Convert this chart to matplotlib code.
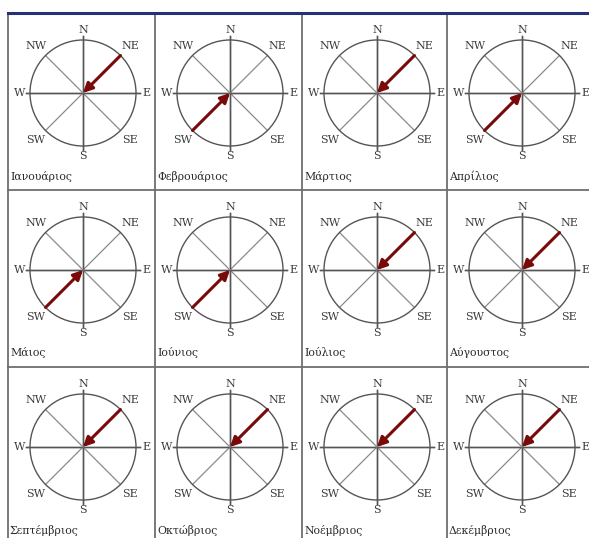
import numpy as np
import matplotlib
matplotlib.use("Agg")
import matplotlib.pyplot as plt
from matplotlib.patches import Circle

# months and prevailing wind direction
months = ["Ιανουάριος", "Φεβρουάριος", "Μάρτιος", "Απρίλιος",
          "Μάιος", "Ιούνιος", "Ιούλιος", "Αύγουστος",
          "Σεπτέμβριος", "Οκτώβριος", "Νοέμβριος", "Δεκέμβριος"]
wind_dir = ["NE", "SW", "NE", "SW",
            "SW", "SW", "NE", "NE",
            "NE", "NE", "NE", "NE"]

compass = ["N", "NE", "E", "SE", "S", "SW", "W", "NW"]
compass_deg = [0, 45, 90, 135, 180, 225, 270, 315]

W, H = 589, 538
fig = plt.figure(figsize=(W / 100, H / 100), dpi=100)
ax = fig.add_axes([0, 0, 1, 1])
ax.set_xlim(0, W)
ax.set_ylim(H, 0)
ax.axis("off")

# grid layout (pixels)
col_edges = [8, 155, 302, 447, 594]
row_edges = [13, 190, 367, 544]
R = 53
serif = ["DejaVu Serif"]

for i, (month, d) in enumerate(zip(months, wind_dir)):
    r, c = divmod(i, 4)
    x0, y0 = col_edges[c], row_edges[r]
    cx, cy = x0 + 75, y0 + 80

    # spokes
    for name, deg in zip(compass, compass_deg):
        a = np.radians(deg)
        if deg % 90 == 0:
            ext = R + 4
            ax.plot([cx - ext * np.sin(a), cx + ext * np.sin(a)],
                    [cy + ext * np.cos(a), cy - ext * np.cos(a)],
                    color="#555555", lw=1.0, zorder=2)
        else:
            ax.plot([cx, cx + R * np.sin(a)], [cy, cy - R * np.cos(a)],
                    color="#8a8a8a", lw=0.9, zorder=2)
        dist = 63 if deg % 90 == 0 else 67
        ax.text(cx + dist * np.sin(a), cy - dist * np.cos(a), name,
                ha="center", va="center", fontsize=8, family=serif,
                color="#3a3a3a", zorder=4)

    ax.add_patch(Circle((cx, cy), R, fill=False, ec="#555555", lw=1.0, zorder=2))

    # wind arrow from rim to centre
    a = np.radians(compass_deg[compass.index(d)])
    ax.annotate("", xy=(cx, cy), xytext=(cx + R * np.sin(a), cy - R * np.cos(a)),
                arrowprops=dict(arrowstyle="-|>", color="#7a0a0a", lw=2.2,
                                mutation_scale=14, shrinkA=0, shrinkB=0),
                zorder=5)

    ax.text(x0 + 2, y0 + 163, month, ha="left", va="center",
            fontsize=7.8, family=serif, color="#2a2a2a")

# table lines
for x in col_edges[:-1]:
    ax.plot([x, x], [row_edges[0], H], color="#6e6e6e", lw=1.3, zorder=1)
for y in row_edges[1:-1]:
    ax.plot([col_edges[0], W], [y, y], color="#6e6e6e", lw=1.3, zorder=1)
ax.plot([col_edges[0], W], [row_edges[0], row_edges[0]], color="#26307a", lw=2.2, zorder=3)

fig.savefig("out.png", dpi=100)
